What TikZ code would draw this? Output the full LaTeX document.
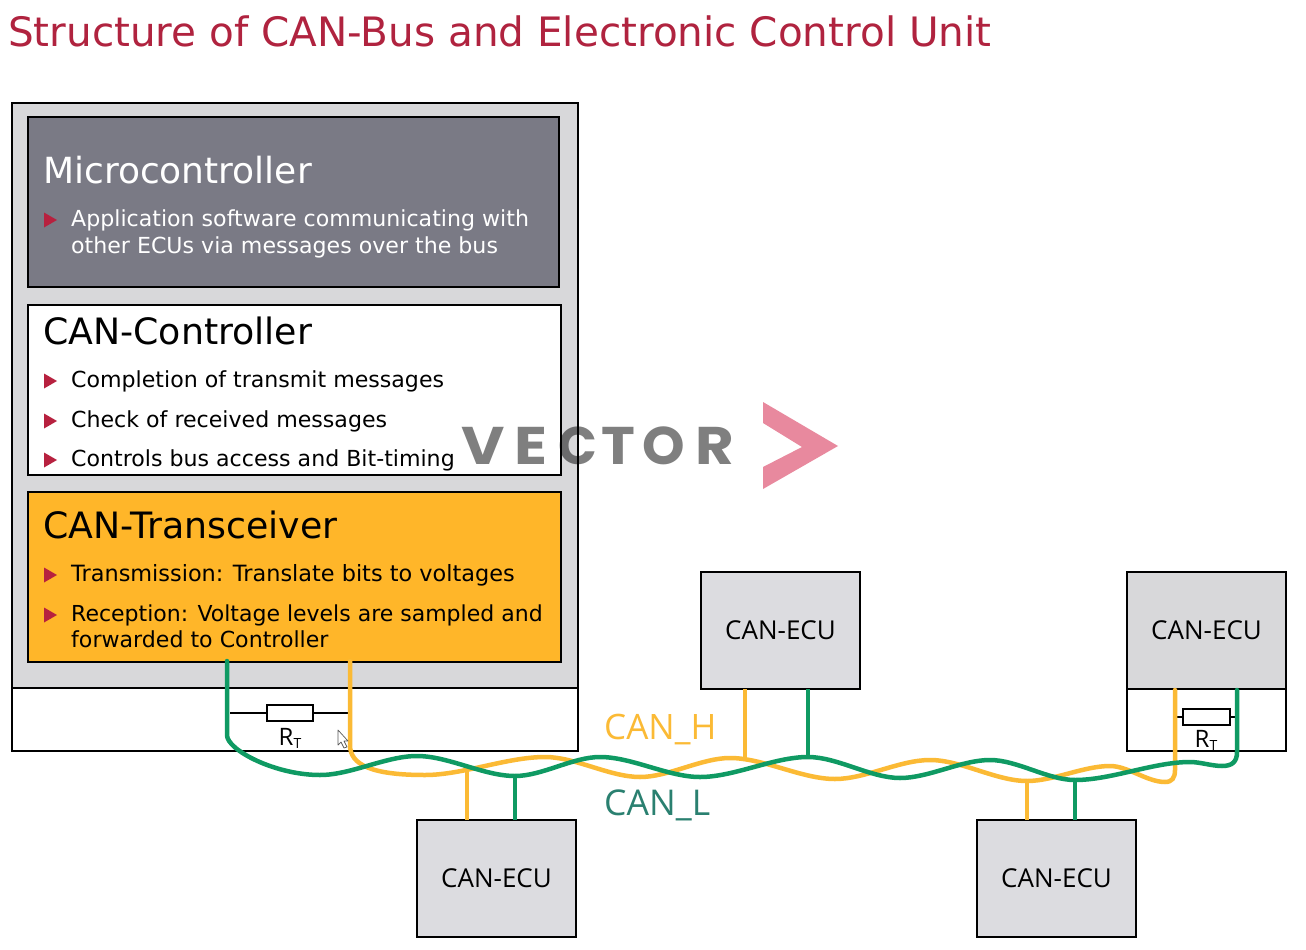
\documentclass[tikz,border=0pt]{standalone}
\usepackage{fontspec}
\setmainfont{DejaVu Sans}
\newfontfamily\wmfont{Poppins}
\newfontfamily\ecufont{Open Sans}
\usetikzlibrary{calc}
\definecolor{titlered}{HTML}{B0233F}
\definecolor{panelgray}{HTML}{D8D8DA}
\definecolor{ecugray}{HTML}{DCDCE0}
\definecolor{mcgray}{HTML}{7A7A85}
\definecolor{amber}{HTML}{FFB629}
\definecolor{wireyellow}{HTML}{FBBA35}
\definecolor{wiregreen}{HTML}{0F9A63}
\definecolor{labelteal}{HTML}{2A8070}
\definecolor{bulletred}{HTML}{B7213F}
\definecolor{wmpink}{HTML}{E8899E}
\newcommand{\fsz}[1]{\fontsize{#1}{#1}\selectfont}
\newcommand{\wmletter}[2]{\scalebox{#1}[1]{#2}}
\tikzset{
  x=1pt,y=-1pt,
  box/.style={draw=black,line width=2.4pt,inner sep=0pt,outer sep=0pt,anchor=north west},
  head/.style={anchor=base west,inner sep=0pt,font=\fsz{36.3}},
  item/.style={anchor=base west,inner sep=0pt,font=\fsz{22.1}},
  ecu/.style={box,fill=ecugray,minimum width=159pt,minimum height=117pt,font=\ecufont\fsz{26}},
  wirey/.style={wireyellow,line width=4.5pt,line cap=round},
  wireg/.style={wiregreen,line width=4.5pt,line cap=round},
  stuby/.style={wireyellow,line width=3.8pt},
  stubg/.style={wiregreen,line width=3.8pt},
  wave/.style={out=0,in=180,looseness=.8},
  res/.style={draw=black,line width=2.2pt,fill=white,inner sep=0pt,outer sep=0pt,minimum width=46pt,minimum height=16pt},
  lead/.style={draw=black,line width=1.7pt},
  wm/.style={anchor=base west,inner sep=0pt,font=\wmfont\bfseries\fsz{53},text=black,text opacity=.5},
  bul/.style={fill=bulletred},
}
\newcommand{\bulletat}[1]{\fill[bul] (44,#1-7.5) -- (57,#1) -- (44,#1+7.5) -- cycle;}
\begin{document}
\begin{tikzpicture}
\path[use as bounding box,fill=white] (0,0) rectangle (1306,950);

\node[anchor=base west,inner sep=0pt,text=titlered,font=\fsz{40.5}] (title) at (8,46.5) {Structure of CAN-Bus and Electronic Control Unit};

% ECU panel
\node[box,fill=white,minimum width=566pt,minimum height=63pt] (lower) at (12,688) {};
\node[box,fill=panelgray,minimum width=566pt,minimum height=585pt] (panel) at (12,103) {};
\node[box,fill=mcgray,minimum width=531pt,minimum height=170pt] (mc) at (28,117) {};
\node[box,fill=white,minimum width=533pt,minimum height=170pt] (cc) at (28,305) {};
\node[box,fill=amber,minimum width=533pt,minimum height=170pt] (tr) at (28,492) {};

\node[head,text=white,font=\fsz{36}] (mch) at (43,183) {Microcontroller};
\bulletat{220}
\node[item,text=white] (mc1) at (71,226) {Application software communicating with};
\node[item,text=white] (mc2) at (71,253) {other ECUs via messages over the bus};

\node[head] (cch) at (43,344) {CAN-Controller};
\bulletat{381}
\node[item] (cc1) at (71,387) {Completion of transmit messages};
\bulletat{421}
\node[item] (cc2) at (71,427) {Check of received messages};
\bulletat{460}
\node[item] (cc3) at (71,466) {Controls bus access and Bit-timing};

\node[head] (trh) at (43,538) {CAN-Transceiver};
\bulletat{575}
\node[item,font=\fsz{22.4}] (tr1) at (71,581) {Transmission: Translate bits to voltages};
\bulletat{615}
\node[item,font=\fsz{22}] (tr2) at (71,621) {Reception: Voltage levels are sampled and};
\node[item] (tr3) at (71,647) {forwarded to Controller};

% other ECUs
\node[box,fill=white,minimum width=159pt,minimum height=62pt] (lowerr) at (1127,689) {};
\node[ecu] (ecua) at (701,572) {CAN-ECU};
\node[ecu,fill=panelgray] (ecub) at (1127,572) {CAN-ECU};
\node[ecu] (ecuc) at (417,820) {CAN-ECU};
\node[ecu] (ecud) at (977,820) {CAN-ECU};

% terminating resistors
\node[res] (rl) at (290,713) {};
\coordinate (rla) at (230,713);
\coordinate (rlb) at (352,713);
\draw[lead] (rla) -- (rl);
\draw[lead] (rl) -- (rlb);
\node[inner sep=0pt,font=\ecufont\fsz{24}] (rlt) at (290,738) {R\raisebox{-3pt}{\fsz{14}T}};

\node[res,minimum width=47pt] (rr) at (1206.5,717) {};
\coordinate (rra) at (1175,717);
\coordinate (rrb) at (1238,717);
\draw[lead] (rra) -- (rr);
\draw[lead] (rr) -- (rrb);
\node[inner sep=0pt,font=\ecufont\fsz{24}] (rrt) at (1206,740) {R\raisebox{-3pt}{\fsz{14}T}};

% named points on the bus
\coordinate (ys) at (350,661);
\coordinate (yc) at (467,771);
\coordinate (ya) at (745,759);
\coordinate (yd) at (1027,781);
\coordinate (ye) at (1175,690);
\coordinate (gs) at (227,661);
\coordinate (gc) at (515,776);
\coordinate (ga) at (808,757);
\coordinate (gd) at (1075,780);
\coordinate (ge) at (1237,690);

% stubs
\draw[stuby] (ecua.south -| ya) -- (ya);
\draw[stubg] (ecua.south -| ga) -- (ga);
\draw[stuby] (ecuc.north -| yc) -- (yc);
\draw[stubg] (ecuc.north -| gc) -- (gc);
\draw[stuby] (ecud.north -| yd) -- (yd);
\draw[stubg] (ecud.north -| gd) -- (gd);

% yellow wire
\draw[wirey] (ys) -- (350,745) .. controls (350,765) and (372,775) .. (425,775)
  to[wave] (545,757) to[wave] (640,777) to[wave] (730,758) to[wave] (835,779)
  to[wave] (930,760) to[wave] (1027,781) to[wave] (1110,766) to[wave] (1165,782)
  .. controls (1172,782) and (1175,778) .. (1175,770) -- (ye);
% green wire
\draw[wireg] (gs) -- (227,735) .. controls (227,750) and (275,775) .. (320,775)
  to[wave] (417,756) to[wave] (515,776) to[wave] (600,757) to[wave] (700,777)
  to[wave] (808,757) to[wave] (900,778) to[wave] (990,760) to[wave] (1075,780)
  to[wave] (1190,762) to[wave] (1222,766)
  .. controls (1232,766) and (1237,762) .. (1237,752) -- (ge);

% bus labels
\node[anchor=base west,inner sep=0pt,text=wireyellow,font=\ecufont\fsz{35}] (canh) at (604,739) {CAN\_H};
\node[anchor=base west,inner sep=0pt,text=labelteal,font=\ecufont\fsz{35.5}] (canl) at (604,815) {CAN\_L};

% mouse cursor
\draw[draw=gray!70!black,fill=white,line width=.7pt,line join=round] (338,730) -- (338,745) -- (341,742) -- (344,748) -- (347,747) -- (344,741) -- (348,741) -- cycle;

% watermark
\node[wm] (w1) at (461,464) {\wmletter{1.12}{V}};
\node[wm] (w2) at (514,464) {\wmletter{1.15}{E}};
\node[wm] (w3) at (558,464) {\wmletter{.96}{C}};
\node[wm] (w4) at (601,464) {\wmletter{1.08}{T}};
\node[wm] (w5) at (642,464) {\wmletter{1.02}{O}};
\node[wm] (w6) at (695,464) {\wmletter{1.12}{R}};
\fill[wmpink] (763,402) -- (838,446) -- (763,489) -- (763,467) -- (802,447) -- (763,423) -- cycle;
\end{tikzpicture}
\end{document}
